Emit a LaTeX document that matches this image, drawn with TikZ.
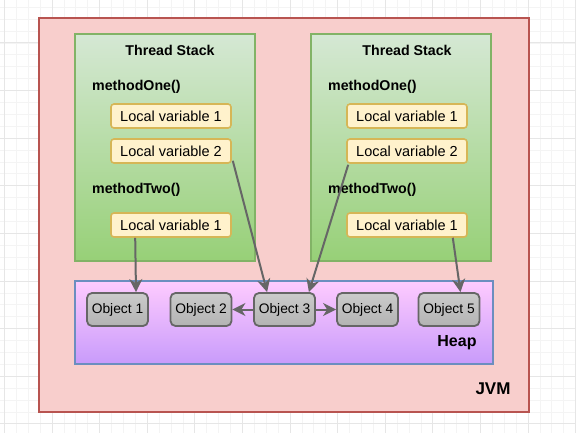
\documentclass[tikz,border=0pt]{standalone}
\usepackage{fontspec}
\setmainfont{Liberation Sans}
\usetikzlibrary{arrows.meta,calc}

\definecolor{jvmfill}{HTML}{F8CECC}
\definecolor{jvmline}{HTML}{B85450}
\definecolor{stacktop}{HTML}{D5E8D4}
\definecolor{stackbot}{HTML}{97D077}
\definecolor{stackline}{HTML}{82B366}
\definecolor{varfill}{HTML}{FFF2CC}
\definecolor{varline}{HTML}{D6B656}
\definecolor{heaptop}{HTML}{FECBFE}
\definecolor{heapbot}{HTML}{C89BFB}
\definecolor{heapline}{HTML}{6C8EBF}
\definecolor{objtop}{HTML}{CBCBCB}
\definecolor{objbot}{HTML}{B3B3B3}
\definecolor{objline}{HTML}{666666}
\definecolor{minorgrid}{HTML}{F4F4F4}
\definecolor{majorgrid}{HTML}{E6E6E6}

\tikzset{
  container/.style={draw, line width=1.6pt, inner sep=0pt},
  jvmbox/.style={container, fill=jvmfill, draw=jvmline},
  stackbox/.style={container, draw=stackline, top color=stacktop, bottom color=stackbot},
  heapbox/.style={container, draw=heapline, top color=heaptop, bottom color=heapbot},
  varbox/.style={draw=varline, fill=varfill, line width=1.6pt, rounded corners=3pt,
    minimum width=120pt, minimum height=24pt, inner sep=0pt,
    font=\fontsize{14.5}{16}\selectfont},
  objbox/.style={draw=objline, top color=objtop, bottom color=objbot, line width=1.8pt,
    rounded corners=5pt, minimum width=61pt, minimum height=33pt, inner sep=0pt,
    font=\fontsize{13.8}{15}\selectfont},
  title/.style={font=\bfseries\fontsize{14.2}{16}\selectfont, inner sep=0pt},
  bigtitle/.style={font=\bfseries\fontsize{17}{19}\selectfont, inner sep=0pt},
  ref/.style={draw=objline, line width=2pt,
    -{Stealth[length=13pt,width=13pt,inset=4pt]}},
}

\begin{document}
\begin{tikzpicture}[x=1pt,y=-1pt]
  \useasboundingbox (0,0) rectangle (576,433);
  \fill[white] (0,0) rectangle (576,433);

  % background grid
  \foreach \i in {-4,...,48} {
    \draw[minorgrid, line width=0.8pt] ({4.4+11.9*\i},0) -- ({4.4+11.9*\i},433);
  }
  \foreach \i in {-4,...,36} {
    \draw[minorgrid, line width=0.8pt] (0,{-4.6+11.9*\i}) -- (576,{-4.6+11.9*\i});
  }
  \foreach \i in {-1,...,12} {
    \draw[majorgrid, line width=1pt] ({4.4+47.6*\i},0) -- ({4.4+47.6*\i},433);
  }
  \foreach \i in {-1,...,9} {
    \draw[majorgrid, line width=1pt] (0,{-4.6+47.6*\i}) -- (576,{-4.6+47.6*\i});
  }

  % JVM
  \path[jvmbox] (39,18) rectangle (529,412);
  \node[bigtitle] (jvm) at (493,389) {JVM};

  % thread stacks
  \path[stackbox] (75,34) rectangle (255,261);
  \path[stackbox] (311,34) rectangle (491,261);

  \node[title] (ts1) at (170,50) {Thread Stack};
  \node[title, anchor=west] (m11) at (92,87) {methodOne()};
  \node[title, anchor=west] (m12) at (92,190) {methodTwo()};
  \node[varbox] (l1) at (171,116) {Local variable 1};
  \node[varbox] (l2) at (171,151) {Local variable 2};
  \node[varbox] (l3) at (171,225) {Local variable 1};

  \node[title] (ts2) at (407,50) {Thread Stack};
  \node[title, anchor=west] (m21) at (328,87) {methodOne()};
  \node[title, anchor=west] (m22) at (328,190) {methodTwo()};
  \node[varbox] (r1) at (407,116) {Local variable 1};
  \node[varbox] (r2) at (407,151) {Local variable 2};
  \node[varbox] (r3) at (407,225) {Local variable 1};

  % heap
  \path[heapbox] (75,281) rectangle (493,364);
  \node[bigtitle, font=\bfseries\fontsize{16}{18}\selectfont] (heap) at (457,343) {Heap};

  \node[objbox] (o1) at (117.5,309.5) {Object 1};
  \node[objbox] (o2) at (201,309.5) {Object 2};
  \node[objbox] (o3) at (284.5,309.5) {Object 3};
  \node[objbox] (o4) at (367.5,309.5) {Object 4};
  \node[objbox] (o5) at (449,309.5) {Object 5};

  % references
  \draw[ref] ($(l3.south west)+(25,0)$) -- ($(o1.north)+(18.5,0)$);
  \draw[ref] ($(l2.south east)+(1,-3)$) -- ($(o3.north west)+(14,0)$);
  \draw[ref] ($(r2.south west)+(2,1)$) -- ($(o3.north east)+(-7,0)$);
  \draw[ref] ($(r3.south east)+(-15,0)$) -- ($(o5.north)+(11.5,0)$);
  \draw[ref] (o3.west) -- (o2.east);
  \draw[ref] (o3.east) -- (o4.west);
\end{tikzpicture}
\end{document}
